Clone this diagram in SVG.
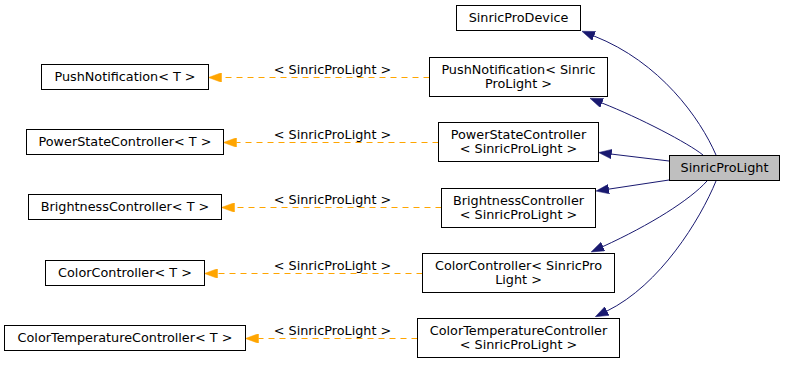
<svg xmlns="http://www.w3.org/2000/svg" width="785" height="365" viewBox="0 0 785 365">
  <style>
    .node rect { fill: #ffffff; stroke: #000000; stroke-width: 1; }
    .node.focus rect { fill: #bfbfbf; }
    text { font-family: "DejaVu Sans", "Liberation Sans", sans-serif; font-size: 12.8px; fill: #000000; text-anchor: middle; }
    .inherit { fill: none; stroke: #191970; stroke-width: 1; marker-end: url(#arrowBlue); }
    .tmpl { fill: none; stroke: #ffa500; stroke-width: 1; stroke-dasharray: 6,5; marker-end: url(#arrowOrange); }
  </style>
  <defs>
    <marker id="arrowBlue" viewBox="0 0 13 9.6" refX="0" refY="4.8" markerWidth="13" markerHeight="9.6" markerUnits="userSpaceOnUse" orient="auto">
      <path d="M0,0 L13,4.8 L0,9.6 Z" fill="#191970" stroke="#191970" stroke-width="0.5"/>
    </marker>
    <marker id="arrowOrange" viewBox="0 0 13 9.6" refX="0" refY="4.8" markerWidth="13" markerHeight="9.6" markerUnits="userSpaceOnUse" orient="auto">
      <path d="M0,0 L13,4.8 L0,9.6 Z" fill="#ffa500" stroke="#ffa500" stroke-width="0.5"/>
    </marker>
  </defs>

  <g id="connectors">
    <!-- inheritance edges from SinricProLight -->
    <path class="inherit" d="M716,155 C700,118 660,62 594,36"/>
    <path class="inherit" d="M703,155 C688,143 640,118 602,103"/>
    <path class="inherit" d="M669,161 L611.6,154.1"/>
    <path class="inherit" d="M669,180 L608.9,189.1"/>
    <path class="inherit" d="M707,181 C690,200 650,225 603,246.5"/>
    <path class="inherit" d="M716,181 C700,220 660,285 607,311"/>
    <!-- template instantiation edges -->
    <path class="tmpl" d="M429.5,77.5 L221.5,77.5"/>
    <text x="332.5" y="73.5">&lt; SinricProLight &gt;</text>
    <path class="tmpl" d="M438.5,142.5 L236.5,142.5"/>
    <text x="332.5" y="138.5">&lt; SinricProLight &gt;</text>
    <path class="tmpl" d="M441.5,207.5 L234.5,207.5"/>
    <text x="332.5" y="203.5">&lt; SinricProLight &gt;</text>
    <path class="tmpl" d="M422.5,273.5 L217.5,273.5"/>
    <text x="332.5" y="269.5">&lt; SinricProLight &gt;</text>
    <path class="tmpl" d="M417.5,338.5 L258.5,338.5"/>
    <text x="332.5" y="334.5">&lt; SinricProLight &gt;</text>
  </g>

  <g id="SinricProLight" class="node focus">
    <rect x="669.5" y="155.5" width="110" height="25"/>
    <text x="724.5" y="171.5">SinricProLight</text>
  </g>

  <g id="SinricProDevice" class="node">
    <rect x="456.5" y="5.5" width="124" height="25"/>
    <text x="518.5" y="21.5">SinricProDevice</text>
  </g>

  <g id="PushNotification_SinricProLight" class="node">
    <rect x="429.5" y="57.5" width="178" height="39"/>
    <text x="518.5" y="73.5">PushNotification&lt; Sinric</text>
    <text x="518.5" y="87.5">ProLight &gt;</text>
  </g>

  <g id="PowerStateController_SinricProLight" class="node">
    <rect x="438.5" y="122.5" width="160" height="39"/>
    <text x="518.5" y="138.5">PowerStateController</text>
    <text x="518.5" y="152.5">&lt; SinricProLight &gt;</text>
  </g>

  <g id="BrightnessController_SinricProLight" class="node">
    <rect x="441.5" y="188.5" width="154" height="39"/>
    <text x="518.5" y="204.5">BrightnessController</text>
    <text x="518.5" y="218.5">&lt; SinricProLight &gt;</text>
  </g>

  <g id="ColorController_SinricProLight" class="node">
    <rect x="422.5" y="253.5" width="192" height="39"/>
    <text x="518.5" y="269.5">ColorController&lt; SinricPro</text>
    <text x="518.5" y="283.5">Light &gt;</text>
  </g>

  <g id="ColorTemperatureController_SinricProLight" class="node">
    <rect x="417.5" y="318.5" width="202" height="39"/>
    <text x="518.5" y="334.5">ColorTemperatureController</text>
    <text x="518.5" y="348.5">&lt; SinricProLight &gt;</text>
  </g>

  <g id="PushNotification_T" class="node">
    <rect x="41.5" y="64.5" width="167" height="25"/>
    <text x="125" y="80.5">PushNotification&lt; T &gt;</text>
  </g>

  <g id="PowerStateController_T" class="node">
    <rect x="26.5" y="129.5" width="197" height="25"/>
    <text x="125" y="145.5">PowerStateController&lt; T &gt;</text>
  </g>

  <g id="BrightnessController_T" class="node">
    <rect x="28.5" y="194.5" width="193" height="25"/>
    <text x="125" y="210.5">BrightnessController&lt; T &gt;</text>
  </g>

  <g id="ColorController_T" class="node">
    <rect x="45.5" y="260.5" width="159" height="25"/>
    <text x="125" y="276.5">ColorController&lt; T &gt;</text>
  </g>

  <g id="ColorTemperatureController_T" class="node">
    <rect x="4.5" y="325.5" width="241" height="25"/>
    <text x="125" y="341.5">ColorTemperatureController&lt; T &gt;</text>
  </g>
</svg>
